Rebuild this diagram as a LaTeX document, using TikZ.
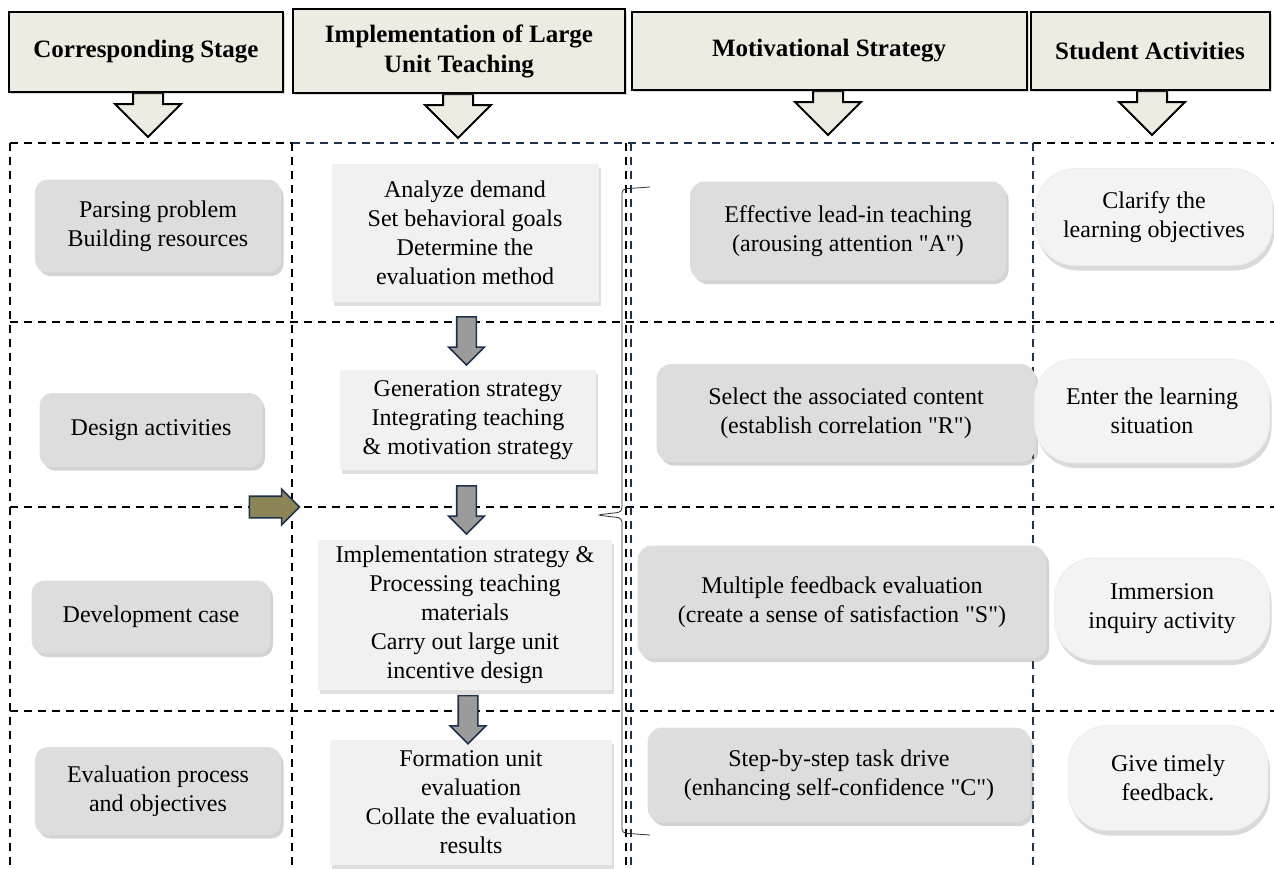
\documentclass[tikz,border=0pt]{standalone}
\usepackage{fontspec}
\setmainfont{Liberation Serif}[Ligatures=TeXOff]
\usetikzlibrary{positioning,shapes.arrows,shadows}

\definecolor{headfill}{RGB}{238,236,226}
\definecolor{stagefill}{RGB}{221,221,221}
\definecolor{planfill}{RGB}{241,241,241}
\definecolor{pillfill}{RGB}{243,243,243}
\definecolor{navyline}{RGB}{30,50,75}
\definecolor{flowgray}{RGB}{155,155,155}
\definecolor{flowolive}{RGB}{140,133,88}

\begin{document}
\begin{tikzpicture}[x=0.5pt,y=-0.5pt,
  every node/.style={font=\fontsize{12}{14.5}\selectfont,align=center,inner sep=2pt},
  gridline/.style={line width=1pt,dash pattern=on 4pt off 3pt},
  headbox/.style={draw,line width=1pt,fill=headfill,font=\bfseries\fontsize{12.5}{15}\selectfont,
    drop shadow={shadow xshift=1pt,shadow yshift=-1pt,opacity=.3}},
  headarrow/.style={single arrow,draw,line width=1pt,fill=headfill,rotate=-90,anchor=tail,
    minimum height=22pt,inner xsep=0pt,inner ysep=7pt,single arrow head extend=9pt},
  stagebox/.style={rounded corners=6pt,fill=stagefill,draw=gray!25,
    drop shadow={shadow xshift=1.5pt,shadow yshift=-2pt,opacity=.35}},
  planbox/.style={fill=planfill,
    drop shadow={shadow xshift=1pt,shadow yshift=-2pt,opacity=.25}},
  motivbox/.style={rounded corners=7pt,fill=stagefill,draw=gray!25,
    drop shadow={shadow xshift=1.5pt,shadow yshift=-2pt,opacity=.35}},
  actbox/.style={rounded corners=20pt,fill=pillfill,draw=gray!15,
    drop shadow={shadow xshift=1pt,shadow yshift=-2.5pt,opacity=.3}},
  flowarrow/.style={single arrow,draw=navyline,line width=0.8pt,fill=flowgray,rotate=-90,
    minimum height=24pt,inner xsep=0pt,inner ysep=4.5pt,single arrow head extend=4pt}
]
\useasboundingbox (0,0) rectangle (1274,868);

% dashed frame of the four stages
\draw[gridline] (10,143) -- (292,143);
\draw[gridline,navyline] (292,143) -- (1033,143);
\draw[gridline] (1033,143) -- (1274,143);
\foreach \y in {322,507,711}
  \draw[gridline] (10,\y) -- (1274,\y);
\draw[gridline] (10,143) -- (10,868);
\draw[gridline] (292,143) -- (292,868);
\draw[gridline] (626,143) -- (626,868);
\draw[gridline,navyline] (631,143) -- (631,868);
\draw[gridline,navyline] (1033,143) -- (1033,868);

% headers
\node[headarrow] at (148,92) {};
\node[headarrow] at (458,93) {};
\node[headarrow] at (828,90) {};
\node[headarrow] at (1152,90) {};
\node[headbox,minimum width=137pt,minimum height=40pt] (stage) at (146,52) {Corresponding Stage};
\node[headbox,minimum width=166pt,minimum height=42pt] (impl) at (459,51) {Implementation of Large\\Unit Teaching};
\node[headbox,minimum width=197.5pt,minimum height=39pt] (motiv) at (829,51) {Motivational Strategy};
\node[headbox,minimum width=119.5pt,minimum height=39pt] (act) at (1150,51) {Student Activities};

% corresponding stage
\node[stagebox,minimum width=122.5pt,minimum height=46pt] (s1) at (158,226) {Parsing problem\\Building resources};
\node[stagebox,minimum width=111pt,minimum height=36.5pt] (s2) at (151,430) {Design activities};
\node[stagebox,minimum width=119pt,minimum height=36pt] (s3) at (151,617) {Development case};
\node[stagebox,minimum width=122.5pt,minimum height=43.5pt] (s4) at (158,791) {Evaluation process\\and objectives};

% implementation
\node[planbox,minimum width=133.5pt,minimum height=69pt] (p1) at (465,233) {Analyze demand\\Set behavioral goals\\Determine the\\evaluation method};
\node[planbox,minimum width=128pt,minimum height=50pt] (p2) at (468,420) {Generation strategy\\Integrating teaching\\\& motivation strategy};
\node[planbox,minimum width=147pt,minimum height=75pt] (p3) at (465,615) {Implementation strategy \&\\Processing teaching\\materials\\Carry out large unit\\incentive design};
\node[planbox,minimum width=141pt,minimum height=62.5pt] (p4) at (471,802) {Formation unit\\evaluation\\Collate the evaluation\\results};

\path (p1.south) -- node[flowarrow] {} (p2.north);
\path (p2.south) -- node[flowarrow] {} (p3.north);
\path (p3.south) -- node[flowarrow] {} (p4.north);
\node[single arrow,draw=navyline,line width=0.8pt,fill=flowolive,minimum height=25pt,
  inner xsep=0pt,inner ysep=5pt,single arrow head extend=3.5pt] (into) at (269,507) {};

% brace over the motivational strategies
\draw[gray!40!black,rounded corners=2pt] (650,187) -- (622,189) -- (622,512) -- (597,515)
  -- (622,518) -- (622,833) -- (650,835);

% motivational strategy
\node[motivbox,minimum width=157.5pt,minimum height=49pt] (m1) at (848,231) {Effective lead-in teaching\\(arousing attention "A")};
\node[motivbox,minimum width=189pt,minimum height=48.5pt] (m2) at (846,413) {Select the associated content\\(establish correlation "R")};
\node[motivbox,minimum width=204pt,minimum height=56pt] (m3) at (842,602) {Multiple feedback evaluation\\(create a sense of satisfaction "S")};
\node[motivbox,minimum width=191pt,minimum height=47pt] (m4) at (839,775) {Step-by-step task drive\\(enhancing self-confidence "C")};

% student activities
\node[actbox,minimum width=118.5pt,minimum height=48.5pt] (a1) at (1154,217) {Clarify the\\learning objectives};
\node[actbox,minimum width=117.5pt,minimum height=52pt] (a2) at (1152,411) {Enter the learning\\situation};
\node[actbox,minimum width=107.5pt,minimum height=51pt] (a3) at (1162,609) {Immersion\\inquiry activity};
\node[actbox,minimum width=100pt,minimum height=52.5pt] (a4) at (1168,778) {Give timely\\feedback.};
\end{tikzpicture}
\end{document}
